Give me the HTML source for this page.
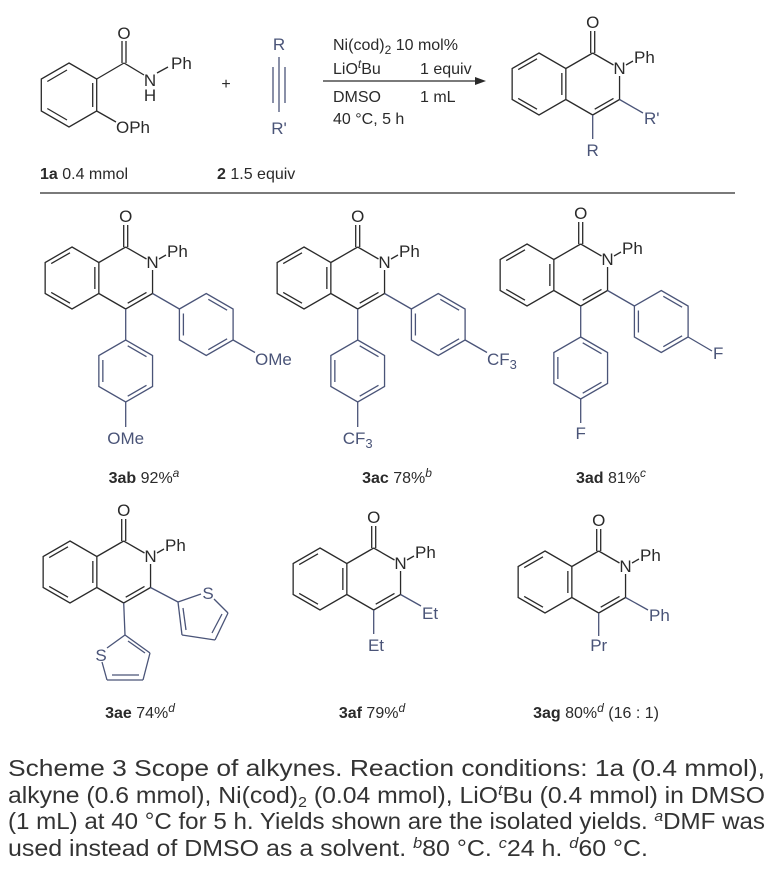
<!DOCTYPE html>
<html><head><meta charset="utf-8"><style>
html,body{margin:0;padding:0;background:#fff;}
svg{display:block;}
text{font-family:"Liberation Sans",sans-serif;}
</style></head><body>
<svg width="772" height="878" viewBox="0 0 772 878" xmlns="http://www.w3.org/2000/svg">
<defs>
<g id="core" fill="none" stroke="#2a2a2a" stroke-width="1.3">
  <polygon points="0,-31 26.85,-15.5 26.85,15.5 0,31 -26.85,15.5 -26.85,-15.5"/>
  <line x1="-20.8" y1="-14.4" x2="-2" y2="-25.2"/>
  <line x1="22.85" y1="-11" x2="22.85" y2="11"/>
  <line x1="-20.8" y1="14.4" x2="-2" y2="25.2"/>
  <line x1="26.85" y1="-15.5" x2="53.7" y2="-31"/>
  <line x1="53.7" y1="-31" x2="74.5" y2="-19"/>
  <line x1="80.55" y1="-8" x2="80.55" y2="15.5"/>
  <line x1="80.55" y1="15.5" x2="53.7" y2="31"/>
  <line x1="53.7" y1="31" x2="26.85" y2="15.5"/>
  <line x1="74.5" y1="14.4" x2="55.7" y2="25.2"/>
  <line x1="51.7" y1="-31" x2="51.7" y2="-53"/>
  <line x1="55.7" y1="-31" x2="55.7" y2="-53"/>
  <line x1="87" y1="-19" x2="94" y2="-23"/>
</g>
<g id="ar3" fill="none" stroke="#4a5478" stroke-width="1.3">
  <line x1="80.55" y1="15.5" x2="107.4" y2="31"/>
  <polygon points="107.4,31 134.25,15.5 161.1,31 161.1,62 134.25,77.5 107.4,62"/>
  <line x1="111.4" y1="35.5" x2="111.4" y2="57.5"/>
  <line x1="136.3" y1="21.3" x2="155.1" y2="32.2"/>
  <line x1="155.1" y1="60.8" x2="136.3" y2="71.7"/>
</g>
<g id="ar4" fill="none" stroke="#4a5478" stroke-width="1.3">
  <line x1="53.7" y1="31" x2="53.7" y2="62"/>
  <polygon points="53.7,62 80.55,77.5 80.55,108.5 53.7,124 26.85,108.5 26.85,77.5"/>
  <line x1="55.7" y1="67.8" x2="74.5" y2="78.7"/>
  <line x1="74.5" y1="107.3" x2="55.7" y2="118.2"/>
  <line x1="30.85" y1="82" x2="30.85" y2="104"/>
</g>
</defs>

<!-- top reaction: reactant 1a -->
<g fill="none" stroke="#2a2a2a" stroke-width="1.3">
  <polygon points="69,63 96.7,79 96.7,111 69,127 41.3,111 41.3,79"/>
  <line x1="47.3" y1="81.5" x2="67" y2="70"/>
  <line x1="92.7" y1="83" x2="92.7" y2="107"/>
  <line x1="47.3" y1="108.5" x2="67" y2="120"/>
  <line x1="96.7" y1="79" x2="124" y2="63"/>
  <line x1="122" y1="63" x2="122" y2="41"/>
  <line x1="126" y1="63" x2="126" y2="41"/>
  <line x1="124" y1="63" x2="144" y2="75"/>
  <line x1="157" y1="73" x2="168" y2="67"/>
  <line x1="96.7" y1="111" x2="116" y2="122"/>
</g>
<g font-size="17" fill="#2a2a2a">
  <text x="124" y="39" text-anchor="middle">O</text>
  <text x="150" y="86" text-anchor="middle">N</text>
  <text x="150" y="101" text-anchor="middle">H</text>
  <text x="171" y="69">Ph</text>
  <text x="116" y="133">OPh</text>
  <text x="226" y="89" text-anchor="middle" font-size="16">+</text>
</g>
<g stroke="#4a5478" stroke-width="1.3">
  <line x1="279" y1="57" x2="279" y2="112"/>
  <line x1="273" y1="67" x2="273" y2="103"/>
  <line x1="285" y1="67" x2="285" y2="103"/>
</g>
<g font-size="17" fill="#4a5478">
  <text x="279" y="50" text-anchor="middle">R</text>
  <text x="279" y="134" text-anchor="middle">R'</text>
</g>
<g font-size="16" fill="#2a2a2a">
  <text x="40" y="179"><tspan font-weight="bold">1a</tspan>  0.4 mmol</text>
  <text x="217" y="179"><tspan font-weight="bold">2</tspan> 1.5 equiv</text>
  <text x="333" y="50">Ni(cod)<tspan font-size="12" dy="4">2</tspan><tspan dy="-4"> 10 mol%</tspan></text>
  <text x="333" y="74">LiO<tspan font-size="12" font-style="italic" dy="-6">t</tspan><tspan dy="6">Bu</tspan></text>
  <text x="420" y="74">1 equiv</text>
  <text x="333" y="102">DMSO</text>
  <text x="420" y="102">1 mL</text>
  <text x="333" y="124">40 °C, 5 h</text>
</g>
<line x1="323" y1="81" x2="478" y2="81" stroke="#2a2a2a" stroke-width="1.2"/>
<polygon points="486,81 475,77 475,85" fill="#2a2a2a"/>

<!-- product -->
<g transform="translate(539,84)">
  <use href="#core"/>
  <g fill="none" stroke="#4a5478" stroke-width="1.3">
    <line x1="80.55" y1="15.5" x2="104" y2="29"/>
    <line x1="53.7" y1="31" x2="53.7" y2="55"/>
  </g>
  <g font-size="17" fill="#2a2a2a">
    <text x="53.7" y="-56" text-anchor="middle">O</text>
    <text x="80.55" y="-10" text-anchor="middle">N</text>
    <text x="95" y="-21">Ph</text>
  </g>
  <g font-size="17" fill="#4a5478">
    <text x="105" y="40">R'</text>
    <text x="53.7" y="72" text-anchor="middle">R</text>
  </g>
</g>

<line x1="40" y1="193" x2="735" y2="193" stroke="#7a7a7a" stroke-width="2"/>

<!-- 3ab -->
<g transform="translate(72,278)">
  <use href="#core"/><use href="#ar3"/><use href="#ar4"/>
  <g stroke="#4a5478" stroke-width="1.3"><line x1="161.1" y1="62" x2="183" y2="74.5"/><line x1="53.7" y1="124" x2="53.7" y2="149"/></g>
  <g font-size="17" fill="#2a2a2a"><text x="53.7" y="-56" text-anchor="middle">O</text><text x="80.55" y="-10" text-anchor="middle">N</text><text x="95" y="-21">Ph</text></g>
  <g font-size="17" fill="#4a5478"><text x="183" y="87">OMe</text><text x="53.7" y="166" text-anchor="middle">OMe</text></g>
</g>
<text x="144" y="483" font-size="16" text-anchor="middle" fill="#2a2a2a"><tspan font-weight="bold">3ab</tspan> 92%<tspan font-size="12" font-style="italic" dy="-6">a</tspan></text>

<!-- 3ac -->
<g transform="translate(304,278)">
  <use href="#core"/><use href="#ar3"/><use href="#ar4"/>
  <g stroke="#4a5478" stroke-width="1.3"><line x1="161.1" y1="62" x2="183" y2="74.5"/><line x1="53.7" y1="124" x2="53.7" y2="149"/></g>
  <g font-size="17" fill="#2a2a2a"><text x="53.7" y="-56" text-anchor="middle">O</text><text x="80.55" y="-10" text-anchor="middle">N</text><text x="95" y="-21">Ph</text></g>
  <g font-size="17" fill="#4a5478"><text x="183" y="87">CF<tspan font-size="13" dy="4">3</tspan></text><text x="53.7" y="166" text-anchor="middle">CF<tspan font-size="13" dy="4">3</tspan></text></g>
</g>
<text x="397" y="483" font-size="16" text-anchor="middle" fill="#2a2a2a"><tspan font-weight="bold">3ac</tspan> 78%<tspan font-size="12" font-style="italic" dy="-6">b</tspan></text>

<!-- 3ad -->
<g transform="translate(527,275)">
  <use href="#core"/><use href="#ar3"/><use href="#ar4"/>
  <g stroke="#4a5478" stroke-width="1.3"><line x1="161.1" y1="62" x2="185" y2="76"/><line x1="53.7" y1="124" x2="53.7" y2="148"/></g>
  <g font-size="17" fill="#2a2a2a"><text x="53.7" y="-56" text-anchor="middle">O</text><text x="80.55" y="-10" text-anchor="middle">N</text><text x="95" y="-21">Ph</text></g>
  <g font-size="17" fill="#4a5478"><text x="186" y="84">F</text><text x="53.7" y="164" text-anchor="middle">F</text></g>
</g>
<text x="611" y="483" font-size="16" text-anchor="middle" fill="#2a2a2a"><tspan font-weight="bold">3ad</tspan> 81%<tspan font-size="12" font-style="italic" dy="-6">c</tspan></text>

<!-- 3ae -->
<g transform="translate(70,572)">
  <use href="#core"/>
  <g font-size="17" fill="#2a2a2a"><text x="53.7" y="-56" text-anchor="middle">O</text><text x="80.55" y="-10" text-anchor="middle">N</text><text x="95" y="-21">Ph</text></g>
</g>
<g fill="none" stroke="#4a5478" stroke-width="1.3">
  <line x1="150.5" y1="587.5" x2="178" y2="602"/>
  <line x1="178" y1="602" x2="201" y2="594"/>
  <line x1="214" y1="599" x2="228" y2="613"/>
  <line x1="228" y1="613" x2="215" y2="640"/>
  <line x1="215" y1="640" x2="182" y2="635"/>
  <line x1="182" y1="635" x2="178" y2="602"/>
  <line x1="186" y1="630" x2="183" y2="608"/>
  <line x1="212" y1="633" x2="222" y2="614"/>
  <line x1="123.7" y1="603" x2="125" y2="635"/>
  <line x1="125" y1="635" x2="150" y2="653"/>
  <line x1="150" y1="653" x2="143" y2="680"/>
  <line x1="143" y1="680" x2="107" y2="680"/>
  <line x1="107" y1="680" x2="102" y2="662"/>
  <line x1="107" y1="648" x2="125" y2="635"/>
  <line x1="128" y1="641" x2="145" y2="653"/>
  <line x1="112" y1="675" x2="139" y2="675"/>
</g>
<g font-size="17" fill="#4a5478"><text x="208" y="599" text-anchor="middle">S</text><text x="101" y="661" text-anchor="middle">S</text></g>
<text x="140" y="718" font-size="16" text-anchor="middle" fill="#2a2a2a"><tspan font-weight="bold">3ae</tspan> 74%<tspan font-size="12" font-style="italic" dy="-6">d</tspan></text>

<!-- 3af -->
<g transform="translate(320,579)">
  <use href="#core"/>
  <g stroke="#4a5478" stroke-width="1.3"><line x1="80.55" y1="15.5" x2="101" y2="27"/><line x1="53.7" y1="31" x2="53.7" y2="55"/></g>
  <g font-size="17" fill="#2a2a2a"><text x="53.7" y="-56" text-anchor="middle">O</text><text x="80.55" y="-10" text-anchor="middle">N</text><text x="95" y="-21">Ph</text></g>
  <g font-size="17" fill="#4a5478"><text x="102" y="40">Et</text><text x="56" y="72" text-anchor="middle">Et</text></g>
</g>
<text x="372" y="718" font-size="16" text-anchor="middle" fill="#2a2a2a"><tspan font-weight="bold">3af</tspan> 79%<tspan font-size="12" font-style="italic" dy="-6">d</tspan></text>

<!-- 3ag -->
<g transform="translate(545,582)">
  <use href="#core"/>
  <g stroke="#4a5478" stroke-width="1.3"><line x1="80.55" y1="15.5" x2="103" y2="28"/><line x1="53.7" y1="31" x2="53.7" y2="54"/></g>
  <g font-size="17" fill="#2a2a2a"><text x="53.7" y="-56" text-anchor="middle">O</text><text x="80.55" y="-10" text-anchor="middle">N</text><text x="95" y="-21">Ph</text></g>
  <g font-size="17" fill="#4a5478"><text x="104" y="39">Ph</text><text x="53.7" y="69" text-anchor="middle">Pr</text></g>
</g>
<text x="596" y="718" font-size="16" text-anchor="middle" fill="#2a2a2a"><tspan font-weight="bold">3ag</tspan> 80%<tspan font-size="12" font-style="italic" dy="-6">d</tspan><tspan dy="6"> (16 : 1)</tspan></text>

<!-- caption -->
<g font-size="23" fill="#333">
  <text x="8" y="776" textLength="757" lengthAdjust="spacingAndGlyphs">Scheme 3  Scope of alkynes. Reaction conditions: 1a (0.4 mmol),</text>
  <text x="8" y="803" textLength="757" lengthAdjust="spacingAndGlyphs">alkyne (0.6 mmol), Ni(cod)<tspan font-size="15" dy="4">2</tspan><tspan dy="-4"> (0.04 mmol), LiO</tspan><tspan font-size="15" font-style="italic" dy="-8">t</tspan><tspan dy="8">Bu (0.4 mmol) in DMSO</tspan></text>
  <text x="8" y="829" textLength="757" lengthAdjust="spacingAndGlyphs">(1 mL) at 40 °C for 5 h. Yields shown are the isolated yields. <tspan font-size="15" font-style="italic" dy="-8">a</tspan><tspan dy="8">DMF was</tspan></text>
  <text x="8" y="856" textLength="640" lengthAdjust="spacingAndGlyphs">used instead of DMSO as a solvent. <tspan font-size="15" font-style="italic" dy="-8">b</tspan><tspan dy="8">80 °C. </tspan><tspan font-size="15" font-style="italic" dy="-8">c</tspan><tspan dy="8">24 h. </tspan><tspan font-size="15" font-style="italic" dy="-8">d</tspan><tspan dy="8">60 °C.</tspan></text>
</g>
</svg>
</body></html>
